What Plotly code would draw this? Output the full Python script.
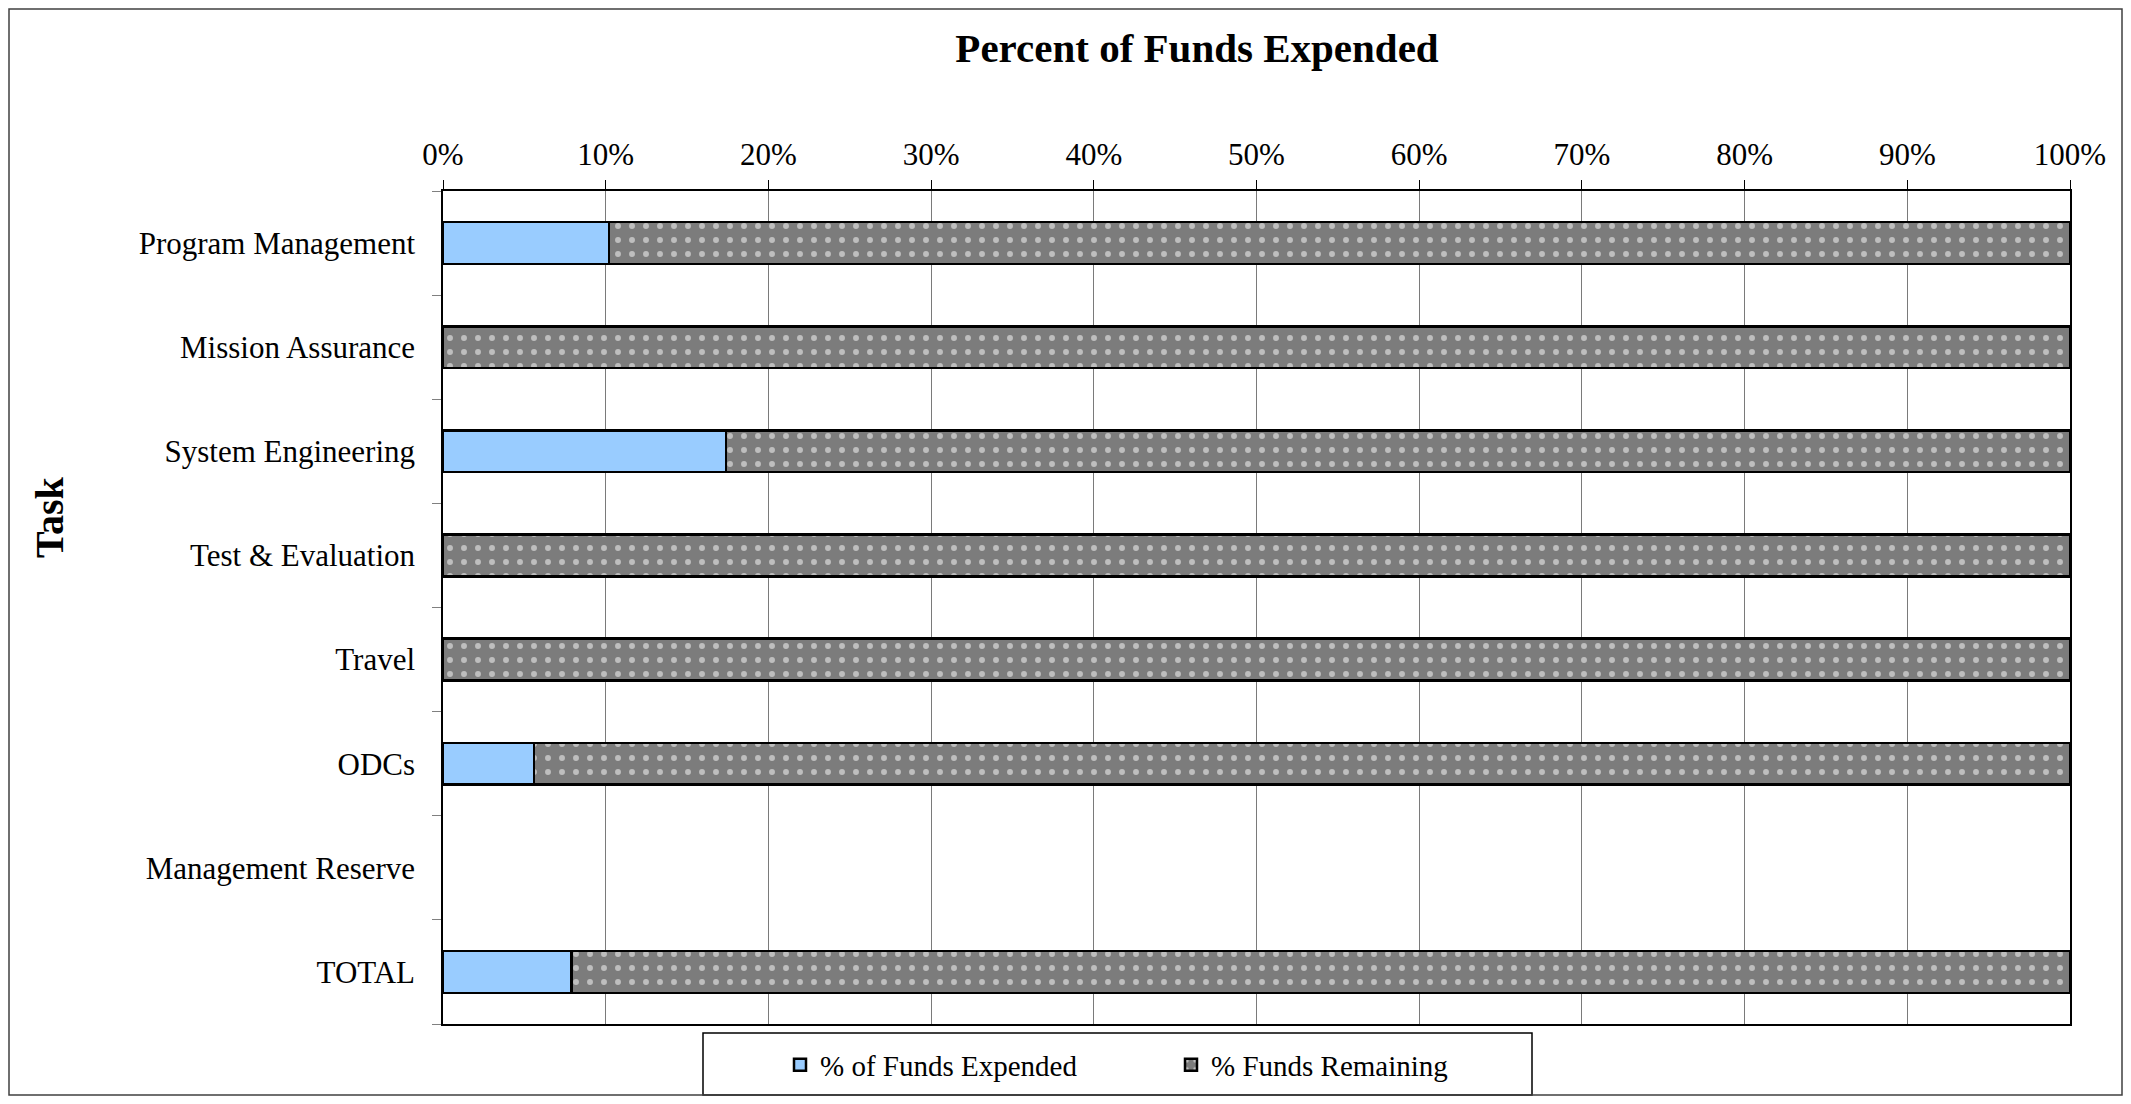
import plotly.graph_objects as go

# page body has an 8px margin, so the figure is drawn 8px in from the window
OFF = 8
W, H = 2131 - 2 * OFF, 1104 - 2 * OFF
ML, MT = 443 - OFF, 191 - OFF
MR, MB = W - (2070 - OFF), H - (1024 - OFF)
SERIF = "Liberation Serif, Times New Roman, serif"

tasks = [
    "Program Management",
    "Mission Assurance",
    "System Engineering",
    "Test & Evaluation",
    "Travel",
    "ODCs",
    "Management Reserve",
    "TOTAL",
]
pct_expended = [0.102, 0.0, 0.174, 0.0, 0.0, 0.056, None, 0.079]
pct_remaining = [0.898, 1.0, 0.826, 1.0, 1.0, 0.944, None, 0.921]
x_ticks = [i / 10 for i in range(11)]

fig = go.Figure()
fig.add_trace(
    go.Bar(
        y=tasks,
        x=pct_expended,
        orientation="h",
        name="% of Funds Expended",
        marker=dict(color="#99CCFF", line=dict(color="#000000", width=2.5)),
        hovertemplate="%{y}: %{x:.1%}<extra></extra>",
    )
)
fig.add_trace(
    go.Bar(
        y=tasks,
        x=pct_remaining,
        orientation="h",
        name="% Funds Remaining",
        marker=dict(
            color="#7c7c7c",
            line=dict(color="#000000", width=2.5),
            pattern=dict(shape=".", bgcolor="#7c7c7c", fgcolor="#ffffff",
                         size=14, solidity=0.14),
        ),
        hovertemplate="%{y}: %{x:.1%}<extra></extra>",
    )
)

pw, ph = W - ML - MR, H - MT - MB


def px_x(x):
    return (x - OFF - ML) / pw


def px_y(y):
    return 1 - (y - OFF - MT) / ph


fig.update_layout(
    width=W,
    height=H,
    barmode="stack",
    bargap=0.6,
    plot_bgcolor="white",
    paper_bgcolor="white",
    font=dict(family=SERIF, size=31, color="#000000"),
    margin=dict(l=ML, r=MR, t=MT, b=MB, pad=0, autoexpand=False),
    title=dict(
        text="<b>Percent of Funds Expended</b>",
        font=dict(family=SERIF, size=41, color="#000000"),
        x=(1197 - OFF) / W, xanchor="center",
        y=1 - (48 - OFF) / H, yanchor="middle",
    ),
    showlegend=True,
    legend=dict(
        orientation="h",
        x=px_x(780), xanchor="left",
        y=px_y(1065), yanchor="middle",
        font=dict(family=SERIF, size=29),
        bgcolor="rgba(0,0,0,0)",
        entrywidth=346, entrywidthmode="pixels",
        traceorder="normal",
    ),
    annotations=[
        dict(
            text="<b>Task</b>", textangle=-90,
            x=px_x(49), xref="paper", xanchor="center",
            y=px_y(517), yref="paper", yanchor="middle",
            showarrow=False, font=dict(family=SERIF, size=40, color="#000000"),
        )
    ],
    shapes=[
        # legend frame
        dict(type="rect", xref="paper", yref="paper",
             x0=px_x(703), x1=px_x(1532), y0=px_y(1095), y1=px_y(1033),
             line=dict(color="#000000", width=1.5), fillcolor="rgba(0,0,0,0)"),
        # outer chart frame
        dict(type="rect", xref="paper", yref="paper",
             x0=-(ML - 1) / pw, x1=1 + (MR - 1) / pw,
             y0=-(MB - 1) / ph, y1=1 + (MT - 1) / ph,
             line=dict(color="#404040", width=1.5), fillcolor="rgba(0,0,0,0)"),
    ],
)

fig.update_xaxes(
    side="top",
    range=[0, 1],
    tickvals=x_ticks,
    tickformat=".0%",
    ticks="outside",
    ticklen=9,
    tickcolor="#000000",
    ticklabelstandoff=3,
    showgrid=True,
    gridcolor="#7a7a7a",
    gridwidth=1,
    showline=True,
    linecolor="#000000",
    linewidth=1.5,
    mirror=True,
    zeroline=False,
    tickfont=dict(family=SERIF, size=31),
)
fig.update_yaxes(
    categoryorder="array",
    categoryarray=tasks[::-1],
    ticks="outside",
    tickson="boundaries",
    ticklen=9,
    tickcolor="#808080",
    showline=True,
    linecolor="#000000",
    linewidth=1.5,
    mirror=True,
    showgrid=False,
    ticklabelstandoff=20,
    tickfont=dict(family=SERIF, size=31),
)

fig.write_html("out.html")
